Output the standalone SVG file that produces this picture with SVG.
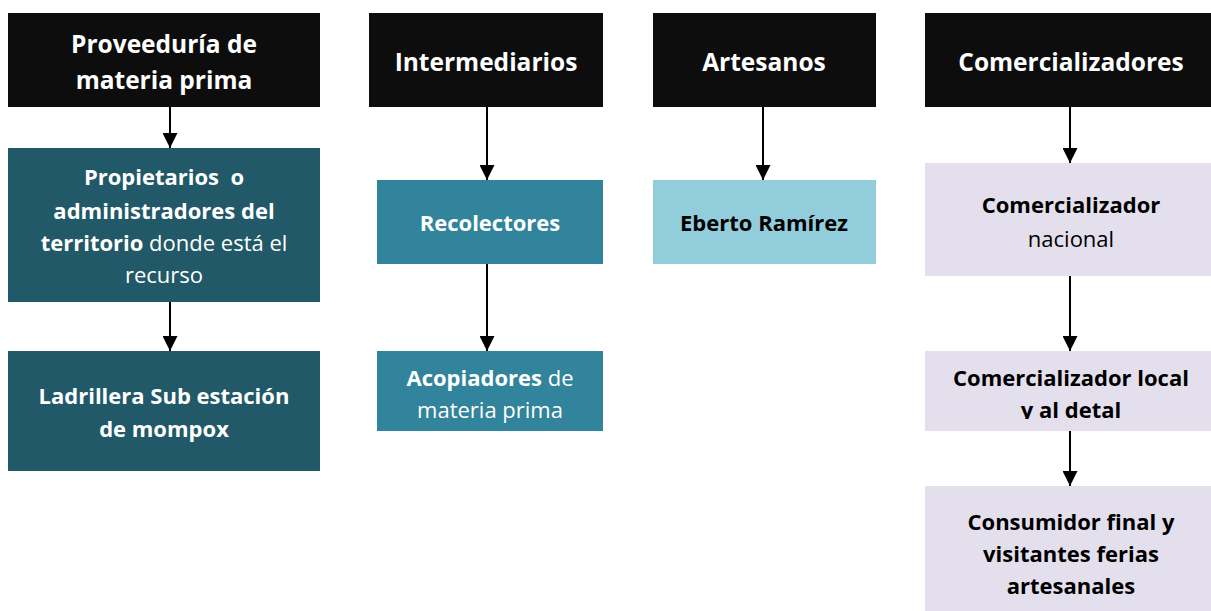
<svg xmlns="http://www.w3.org/2000/svg" width="1211" height="611" viewBox="0 0 1211 611">
<defs>
<marker id="ah" markerUnits="userSpaceOnUse" markerWidth="15" markerHeight="15" refX="15" refY="7.5" orient="auto" viewBox="0 0 15 15">
<path d="M0,0 L15,7.5 L0,15 Z" fill="#000"/>
</marker>
<clipPath id="c6"><rect x="925" y="351" width="286" height="68"/></clipPath>
</defs>
<style>
text{font-family:"Open Sans","Noto Sans","Liberation Sans",sans-serif;text-anchor:middle;font-size:22px}
.h{font-size:24.5px}
.b{font-weight:bold}
.w{fill:#fff}
.k{fill:#000}
.hd{fill:#0d0d0d}
.dt{fill:#215968}
.mt{fill:#31849b}
.lt{fill:#92cddc}
.lv{fill:#e4dfec}
.cn line{stroke:#000;stroke-width:2;marker-end:url(#ah)}
</style>
<rect width="1211" height="611" fill="#fff"/>
<g class="cn">
<line x1="170" y1="107" x2="170" y2="148"/>
<line x1="170" y1="302" x2="170" y2="351"/>
<line x1="487" y1="107" x2="487" y2="180"/>
<line x1="487" y1="264" x2="487" y2="351"/>
<line x1="763" y1="107" x2="763" y2="180"/>
<line x1="1070" y1="107" x2="1070" y2="163"/>
<line x1="1070" y1="276" x2="1070" y2="351"/>
<line x1="1070" y1="431" x2="1070" y2="486"/>
</g>
<g id="n1"><rect class="hd" x="8" y="13" width="312" height="94"/>
<text class="b w h" x="164" y="53">Proveeduría de</text><text class="b w h" x="164" y="89">materia prima</text></g>
<g id="n2"><rect class="dt" x="8" y="148" width="312" height="154"/>
<text class="w" x="164" y="185" xml:space="preserve"><tspan class="b">Propietarios  o</tspan></text>
<text class="b w" x="164" y="219">administradores del</text>
<text class="w" x="164" y="251"><tspan class="b">territorio</tspan> donde está el</text>
<text class="w" x="164" y="283">recurso</text></g>
<g id="n3"><rect class="dt" x="8" y="351" width="312" height="120"/>
<text class="b w" x="164" y="404">Ladrillera Sub estación</text><text class="b w" x="164" y="437">de mompox</text></g>
<g id="n4"><rect class="hd" x="369" y="13" width="234" height="94"/>
<text class="b w h" x="486" y="71">Intermediarios</text></g>
<g id="n5"><rect class="mt" x="377" y="180" width="226" height="84"/>
<text class="b w" x="490" y="231">Recolectores</text></g>
<g id="n6"><rect class="mt" x="377" y="351" width="226" height="80"/>
<text class="w" x="490" y="386"><tspan class="b">Acopiadores</tspan> de</text>
<text class="w" x="490" y="418">materia prima</text></g>
<g id="n7"><rect class="hd" x="653" y="13" width="223" height="94"/>
<text class="b w h" x="764" y="71">Artesanos</text></g>
<g id="n8"><rect class="lt" x="653" y="180" width="223" height="84"/>
<text class="b k" x="764" y="231">Eberto Ramírez</text></g>
<g id="n9"><rect class="hd" x="925" y="13" width="286" height="94"/>
<text class="b w h" x="1071" y="71">Comercializadores</text></g>
<g id="n10"><rect class="lv" x="925" y="163" width="286" height="113"/>
<text class="b k" x="1071" y="213">Comercializador</text><text class="k" x="1071" y="247">nacional</text></g>
<g id="n11"><rect class="lv" x="925" y="351" width="286" height="80"/>
<g clip-path="url(#c6)"><text class="b k" x="1071" y="386">Comercializador local</text><text class="b k" x="1071" y="418">y al detal</text></g></g>
<g id="n12"><rect class="lv" x="925" y="486" width="286" height="125"/>
<text class="b k" x="1071" y="530">Consumidor final y</text><text class="b k" x="1071" y="562">visitantes ferias</text><text class="b k" x="1071" y="594">artesanales</text></g>
</svg>
